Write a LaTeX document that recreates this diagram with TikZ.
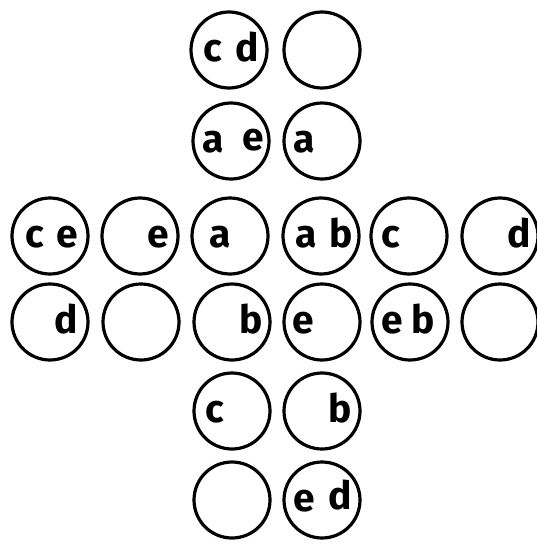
\documentclass[tikz,border=0pt]{standalone}
\usepackage{fontspec}
\setmainfont{Fira Sans}
\begin{document}
\begin{tikzpicture}[x=1pt,y=-1pt,
  hole/.style={circle,draw,line width=3.2pt,minimum size=76pt,inner sep=0pt},
  lbl/.style={font=\fontsize{39}{39}\selectfont\bfseries,inner sep=0pt,anchor=base}]
\useasboundingbox[fill=white] (0,0) rectangle (536,546);
% row 1
\node[hole] (r1a) at (229,50) {};
\node[hole] (r1b) at (322,50) {};
% row 2
\node[hole] (r2a) at (231,141) {};
\node[hole] (r2b) at (322,141) {};
% row 3
\node[hole] (r3a) at (50,236) {};
\node[hole] (r3b) at (140,236) {};
\node[hole] (r3c) at (230,236) {};
\node[hole] (r3d) at (321,236) {};
\node[hole] (r3e) at (409,236) {};
\node[hole] (r3f) at (500,236) {};
% row 4
\node[hole] (r4a) at (50,322) {};
\node[hole] (r4b) at (141,322) {};
\node[hole] (r4c) at (232,322) {};
\node[hole] (r4d) at (322,322) {};
\node[hole] (r4e) at (410,322) {};
\node[hole] (r4f) at (500,322) {};
% row 5
\node[hole] (r5a) at (232,411) {};
\node[hole] (r5b) at (322,411) {};
% row 6
\node[hole] (r6a) at (232,500) {};
\node[hole] (r6b) at (322,500) {};
% letters
\node[lbl] (t1) at (213,61) {c};
\node[lbl] (t2) at (247,61) {d};
\node[lbl] (t3) at (213,152) {a};
\node[lbl] (t4) at (253,150) {e};
\node[lbl] (t5) at (304,152) {a};
\node[lbl] (t6) at (35,247) {c};
\node[lbl] (t7) at (67,247) {e};
\node[lbl] (t8) at (158,247) {e};
\node[lbl] (t9) at (220,247) {a};
\node[lbl] (t10) at (306,247) {a};
\node[lbl] (t11) at (341,247) {b};
\node[lbl] (t12) at (391,247) {c};
\node[lbl] (t13) at (519,247) {d};
\node[lbl] (t14) at (66,333) {d};
\node[lbl] (t15) at (251,333) {b};
\node[lbl] (t16) at (303,333) {e};
\node[lbl] (t17) at (392,333) {e};
\node[lbl] (t18) at (423,333) {b};
\node[lbl] (t19) at (215,422) {c};
\node[lbl] (t20) at (340,422) {b};
\node[lbl] (t21) at (304,511) {e};
\node[lbl] (t22) at (340,509) {d};
\end{tikzpicture}
\end{document}
